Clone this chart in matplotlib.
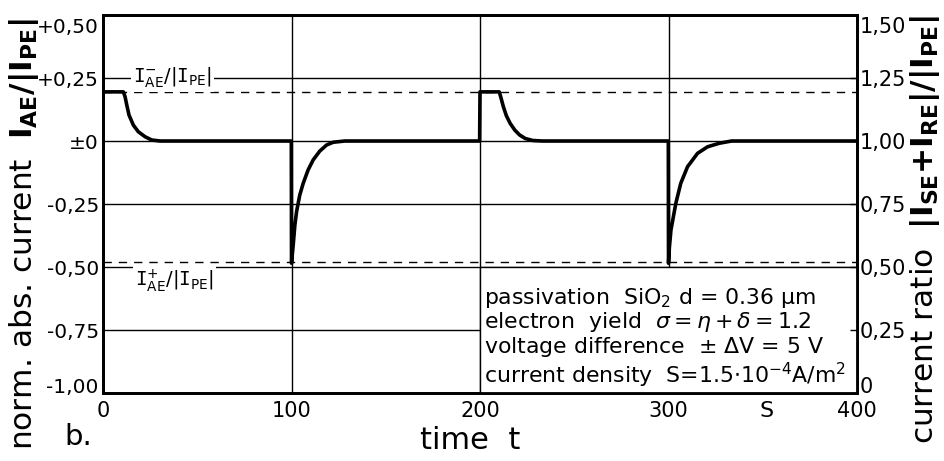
import matplotlib
matplotlib.use("Agg")
import matplotlib.pyplot as plt
from matplotlib.patches import Rectangle
from matplotlib.transforms import ScaledTranslation

plt.rcParams['font.family'] = ['DejaVu Sans']
plt.rcParams['mathtext.fontset'] = 'dejavusans'

# ---- data ----
time_s = [0, 10.8, 11.7, 12.6, 13.8, 16.1, 18.7, 22.3, 25.8, 30.2,
          99.9, 100, 100.9, 101.8, 102.7, 104.4, 106.2, 108.8, 111.5, 115, 118.6, 122.1, 128.3,
          199.8, 200, 210.2, 211, 212.4, 214, 216, 218.5, 221, 224, 228, 233,
          299.9, 300, 300.5, 301.3, 303.9, 306.5, 310.1, 315.4, 320.7, 326.9, 333.5, 400]
abs_current = [0.195, 0.195, 0.176, 0.143, 0.103, 0.063, 0.037, 0.017, 0.004, 0.0,
               0.0, -0.485, -0.413, -0.333, -0.28, -0.214, -0.168, -0.115, -0.075, -0.04, -0.016, -0.005, 0.0,
               0.0, 0.195, 0.195, 0.175, 0.136, 0.1, 0.07, 0.043, 0.024, 0.01, 0.002, 0.0,
               0.0, -0.485, -0.42, -0.353, -0.247, -0.168, -0.102, -0.049, -0.023, -0.009, 0.0, 0.0]
level_neg = 0.195     # I_AE^- / |I_PE|
level_pos = -0.482    # I_AE^+ / |I_PE|

x_ticks = [0, 100, 200, 300, 400]
x_ticklabels = ['0', '100', '200', '300', '400']
y_ticks = [0.5, 0.25, 0.0, -0.25, -0.5, -0.75, -1.0]
y_ticklabels = ['+0,50', '+0,25', '±0', '-0,25', '-0,50', '-0,75', '-1,00']
r_ticks = [1.5, 1.25, 1.0, 0.75, 0.5, 0.25, 0.0]
r_ticklabels = ['1,50', '1,25', '1,00', '0,75', '0,50', '0,25', '0']

fig = plt.figure(figsize=(9.44, 4.61), dpi=100)
ax = fig.add_axes([103/944, 68/461, 754/944, 378/461])
ax.set_xlim(0, 400)
ax.set_ylim(-1.0, 0.5)

# grid
for yv in [0.25, 0.0, -0.25, -0.5, -0.75]:
    ax.axhline(yv, color='black', lw=1.0, zorder=1)
for xv in [100, 200, 300]:
    ax.axvline(xv, color='black', lw=1.0, zorder=1)

# dashed levels
ax.axhline(level_neg, color='black', lw=1.0, dashes=(6, 5), zorder=1)
ax.axhline(level_pos, color='black', lw=1.0, dashes=(6, 5), zorder=1)

# curve
ax.plot(time_s, abs_current, color='black', lw=2.6, solid_joinstyle='round',
        solid_capstyle='round', zorder=4)

# info box
ax.add_patch(Rectangle((200, -1.0), 200, 0.5, facecolor='white', edgecolor='black',
                       lw=1.0, zorder=3))
info = ("passivation  SiO$_2$ d = 0.36 µm\n"
        "electron  yield  $\\sigma = \\eta + \\delta = 1.2$\n"
        "voltage difference  $\\pm$ $\\Delta$V = 5 V\n"
        "current density  S=1.5$\\cdot$10$^{-4}$A/m$^2$")
ax.text(202, -0.78, info, ha='left', va='center', fontsize=15.8, linespacing=1.05,
        zorder=5)

# level labels
ax.text(37, 0.25, r"$\mathtt{I}^{-}_{\mathrm{AE}}/|\mathtt{I}_{\mathrm{PE}}|$",
        ha='center', va='center', fontsize=14, zorder=5,
        bbox=dict(facecolor='white', edgecolor='none', pad=1.5))
ax.text(38, -0.555, r"$\mathtt{I}^{+}_{\mathrm{AE}}/|\mathtt{I}_{\mathrm{PE}}|$",
        ha='center', va='center', fontsize=14, zorder=5,
        bbox=dict(facecolor='white', edgecolor='none', pad=1.5))

# axes styling
for s in ax.spines.values():
    s.set_linewidth(2.0)
ax.set_xticks(x_ticks)
ax.set_xticklabels(x_ticklabels, fontsize=15)
ax.set_yticks(y_ticks)
ax.set_yticklabels(y_ticklabels, fontsize=14.5)
ax.tick_params(axis='x', length=0, pad=6)
ax.tick_params(axis='y', length=0, pad=3)

ax2 = ax.twinx()
ax2.set_ylim(0.0, 1.5)
ax2.set_yticks(r_ticks)
ax2.set_yticklabels(r_ticklabels, fontsize=15)
ax2.tick_params(axis='y', direction='in', length=5, width=1.0, pad=2)
for s in ax2.spines.values():
    s.set_linewidth(2.0)

# shift the extreme tick labels inward (as in the reference)
for labs in (ax.get_yticklabels(), ax2.get_yticklabels()):
    for lab in labs:
        txt = lab.get_text()
        if txt in ('+0,50', '1,50'):
            lab.set_transform(lab.get_transform() + ScaledTranslation(0, -10/100, fig.dpi_scale_trans))
        if txt in ('-1,00', '0'):
            lab.set_transform(lab.get_transform() + ScaledTranslation(0, 8/100, fig.dpi_scale_trans))

# unit "S"
ax.annotate('S', xy=(352, -1.0), xytext=(0, -6), textcoords='offset points',
            ha='center', va='top', fontsize=16)

# axis labels
fig.text(24/944, 1 - 234/461,
         r"norm. abs. current  $\mathbf{I}_{\mathbf{AE}}\mathbf{/|I}_{\mathbf{PE}}\mathbf{|}$",
         rotation=90, ha='center', va='center', fontsize=22.5)
fig.text(925/944, 1 - 230/461,
         r"current ratio  $\mathbf{|I}_{\mathbf{SE}}\mathbf{+I}_{\mathbf{RE}}\mathbf{|/|I}_{\mathbf{PE}}\mathbf{|}$",
         rotation=90, ha='center', va='center', fontsize=22.5)
fig.text(470/944, 1 - 440/461, "time  t", ha='center', va='center', fontsize=22)
fig.text(78/944, 1 - 437/461, "b.", ha='center', va='center', fontsize=21)

fig.savefig('out.png', dpi=100)
